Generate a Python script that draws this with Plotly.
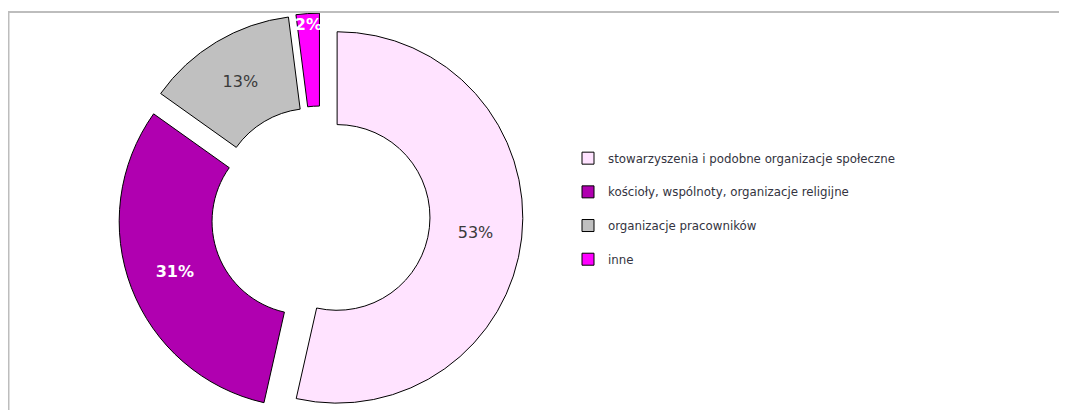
import plotly.graph_objects as go

labels = [
    "stowarzyszenia i podobne organizacje społeczne",
    "kościoły, wspólnoty, organizacje religijne",
    "organizacje pracowników",
    "inne",
]
values = [53, 31, 13, 2]
colors = ["#FFE3FF", "#B000B0", "#C0C0C0", "#FF00FF"]
text_colors = ["#3a3a3a", "#FFFFFF", "#3a3a3a", "#FFFFFF"]
text_weights = ["normal", "bold", "normal", "bold"]

W, H = 1067, 410
PULL = 0.09
R = 187
CX, CY = 312.5, 209  # pie centre in figure pixels
RY = R * (1 + PULL)

fig = go.Figure(
    go.Pie(
        labels=[l + "<br> " for l in labels],
        values=values,
        hole=0.5,
        sort=False,
        direction="clockwise",
        rotation=0,
        pull=[PULL] * len(values),
        marker=dict(colors=colors, line=dict(color="#000000", width=1)),
        texttemplate="%{value}%",
        textposition="inside",
        insidetextorientation="horizontal",
        textfont=dict(family="DejaVu Sans", size=16, color=text_colors, weight=text_weights),
        domain=dict(
            x=[(CX - 225) / W, (CX + 225) / W],
            y=[max(0, 1 - (CY + RY) / H), 1 - (CY - RY) / H],
        ),
        hoverinfo="label+percent",
    )
)

fig.update_layout(
    width=W,
    height=H,
    margin=dict(l=0, r=0, t=0, b=0),
    paper_bgcolor="white",
    plot_bgcolor="white",
    uniformtext=dict(minsize=16, mode="show"),
    showlegend=True,
    legend=dict(
        x=560 / W,
        y=1 - 136 / H,
        xanchor="left",
        yanchor="top",
        valign="top",
        font=dict(family="DejaVu Sans", size=11.8, color="#333340"),
        bgcolor="rgba(0,0,0,0)",
    ),
    shapes=[
        dict(type="line", xref="paper", yref="paper",
             x0=0, x1=1.0, y0=1 - 4 / H, y1=1 - 4 / H,
             line=dict(color="#BDBDBD", width=2)),
        dict(type="line", xref="paper", yref="paper",
             x0=0.5 / W, x1=0.5 / W, y0=1 - 4 / H, y1=0,
             line=dict(color="#BDBDBD", width=2)),
    ],
)

fig.write_html("out.html")
